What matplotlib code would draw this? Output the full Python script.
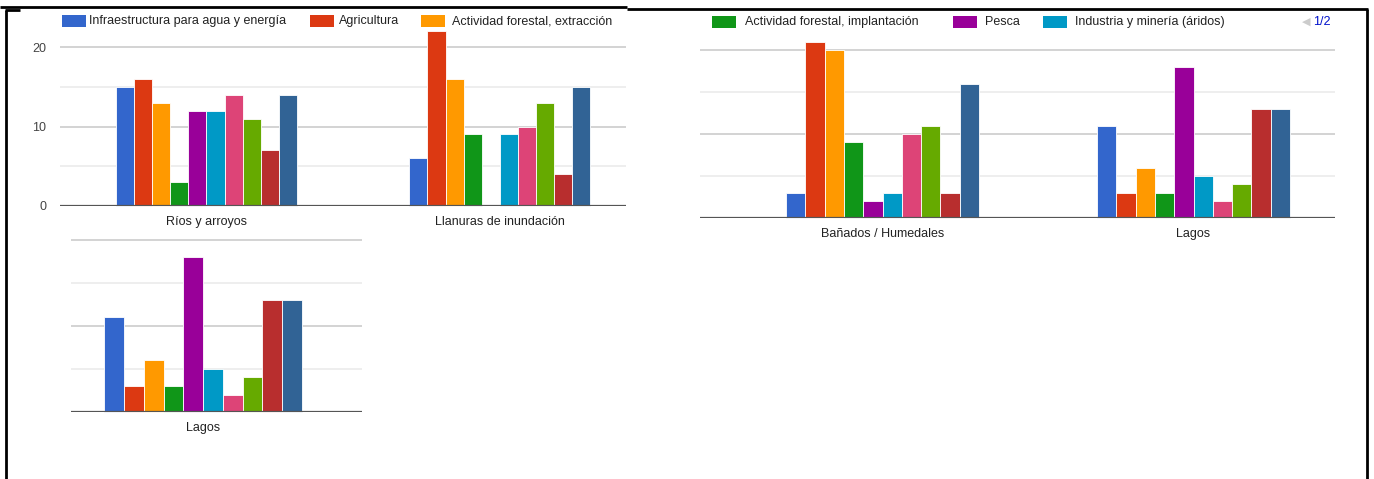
import numpy as np
import matplotlib
matplotlib.use("Agg")
import matplotlib.pyplot as plt
from matplotlib.patches import Rectangle

plt.rcParams['font.family'] = ['Liberation Sans', 'DejaVu Sans']

# datos por ambiente (10 series, mismo orden que los colores)
rios = [15, 16, 13, 3, 12, 12, 14, 11, 7, 14]
llanuras = [6, 22, 16, 9, 0, 9, 10, 13, 4, 15]
banados = [3, 21, 20, 9, 2, 3, 10, 11, 3, 16]
lagos = [11, 3, 6, 3, 18, 5, 2, 4, 13, 13]

colores = ['#3366cc', '#dc3912', '#ff9900', '#109618', '#990099',
           '#0099c6', '#dd4477', '#66aa00', '#b82e2e', '#316395']

nombres = ["Infraestructura para agua y energía", "Agricultura",
           "Actividad forestal, extracción", "Actividad forestal, implantación",
           "Pesca", "Industria y minería (áridos)"]

W, H = 1374, 479
fig = plt.figure(figsize=(W/100, H/100), dpi=100)


def ejes(x0, x1, y0, y1):
    return fig.add_axes([x0/W, 1 - y1/H, (x1-x0)/W, (y1-y0)/H])


def barras(ax, categorias, grupos, xlim, ymax, grupo_ancho=0.62, ylabels=False):
    n = len(colores)
    bw = grupo_ancho / n
    pos = np.arange(len(categorias))
    for lv in [5, 10, 15, 20]:
        c = '#cccccc' if lv % 10 == 0 else '#ebebeb'
        ax.axhline(lv, color=c, lw=1.2, zorder=0)
    for i in range(n):
        vals = [g[i] for g in grupos]
        ax.bar(pos - grupo_ancho/2 + (i + 0.5)*bw, vals, width=bw,
               color=colores[i], edgecolor='#ffffff', linewidth=0.6,
               zorder=2, clip_on=False)
    ax.axhline(0, color='#555555', lw=1.6, zorder=3)
    ax.set_xlim(*xlim)
    ax.set_ylim(0, ymax)
    ax.set_xticks(pos)
    ax.set_xticklabels(categorias, fontsize=9, color='#222222')
    ax.tick_params(axis='x', length=0, pad=7.5)
    if ylabels:
        ax.set_yticks([0, 10, 20])
        ax.tick_params(axis='y', length=0, pad=10, labelsize=9, labelcolor='#444444')
    else:
        ax.set_yticks([])
    for s in ax.spines.values():
        s.set_visible(False)
    ax.patch.set_alpha(0)


ax1 = ejes(60, 626, 206 - 22.5*7.95, 206)
barras(ax1, ["Ríos y arroyos", "Llanuras de inundación"], [rios, llanuras],
       (-0.499, 1.43), 22.5, grupo_ancho=0.617, ylabels=True)

ax2 = ejes(700, 1335, 218 - 21.5*8.4, 218)
barras(ax2, ["Bañados / Humedales", "Lagos"], [banados, lagos],
       (-0.587, 1.455), 21.5, grupo_ancho=0.62)

ax3 = ejes(71, 362, 411.7 - 20.5*8.6, 411.7)
barras(ax3, ["Lagos"], [lagos], (-0.414, 0.498), 20.5, grupo_ancho=0.62)

# capa superior: leyendas y marco
top = fig.add_axes([0, 0, 1, 1])
top.set_xlim(0, W)
top.set_ylim(H, 0)
top.axis('off')
top.patch.set_alpha(0)

leyenda = [(62, 89, 21, 0), (310, 339, 21, 1), (421, 452, 21, 2),
           (712, 745, 22, 3), (953, 985, 22, 4), (1043, 1075, 22, 5)]
for bx, tx, ty, k in leyenda:
    top.add_patch(Rectangle((bx, ty - 6), 24, 12, color=colores[k], lw=0))
    top.text(tx, ty, nombres[k], fontsize=9, color='#222222', va='center', ha='left')

top.text(1306, 22, "\u25c0", fontsize=8, color='#cccccc', va='center', ha='center',
         family=['DejaVu Sans'])
top.text(1313, 22, "1/2", fontsize=9, color='#0011cc', va='center', ha='left')

k = dict(color='black', lw=2, solid_capstyle='butt')
top.plot([0, 627], [7, 7], **k)
top.plot([627, 1368], [9, 9], **k)
top.plot([5, 20], [10, 10], **k)
top.plot([6, 6], [10, H], **k)
top.plot([1367, 1367], [9, H], **k)

fig.savefig('out.png', dpi=100)
